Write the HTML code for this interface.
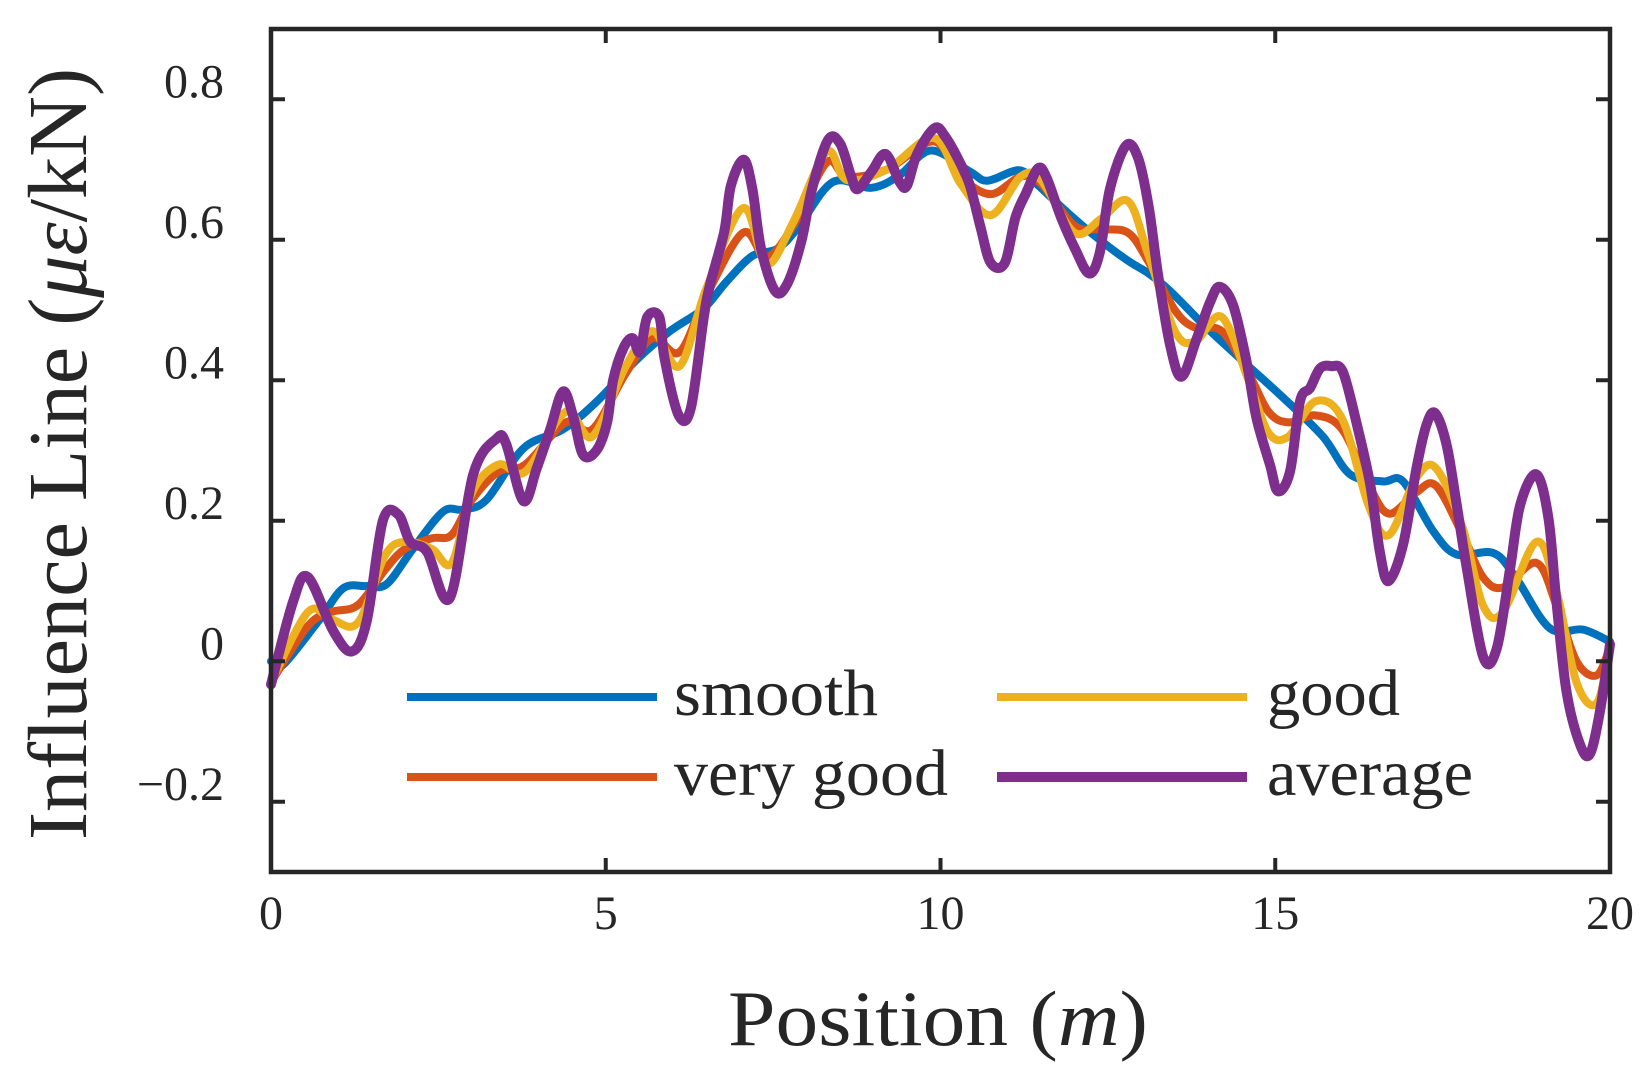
<!DOCTYPE html>
<html><head><meta charset="utf-8"><style>
html,body{margin:0;padding:0;background:#fff;}
svg{display:block;}
text{font-family:"Liberation Serif",serif;fill:#262626;}
</style></head><body>
<svg id="chart" width="1647" height="1087" viewBox="0 0 1647 1087" xmlns="http://www.w3.org/2000/svg">
<g id="series"></g>
<g id="axes"></g>
<g id="legend"></g>
<text x="938" y="1045" font-size="78" text-anchor="middle" textLength="420" lengthAdjust="spacingAndGlyphs">Position (<tspan font-style="italic">m</tspan>)</text>
<text transform="translate(86,454) rotate(-90)" x="0" y="0" font-size="84" text-anchor="middle" textLength="772" lengthAdjust="spacingAndGlyphs">Influence Line (<tspan font-style="italic">με</tspan>/kN)</text>
</svg>
<script>
const xTicks=[0,5,10,15,20];
const yTicks=[-0.2,0,0.2,0.4,0.6,0.8];
const yTickLabels=["−0.2","0","0.2","0.4","0.6","0.8"];
const seriesNames=["smooth","very good","good","average"];
const smoothX=[0,0.18,0.73,1.08,1.43,1.73,2.12,2.57,2.87,3.22,3.77,4.36,4.87,5.47,5.96,6.46,6.8,7.19,7.56,7.87,8.39,8.97,9.39,9.86,10.44,10.7,11.17,11.43,11.8,12.22,12.77,13.11,13.43,13.93,14.52,15.12,15.71,16.12,16.61,16.91,17.36,17.71,18.26,18.6,19.1,19.6,20];
const smoothY=[0,-0.005,0.06,0.104,0.107,0.11,0.16,0.213,0.216,0.23,0.303,0.33,0.37,0.43,0.47,0.502,0.54,0.577,0.587,0.617,0.682,0.674,0.692,0.727,0.697,0.684,0.699,0.68,0.647,0.612,0.572,0.552,0.527,0.479,0.427,0.375,0.32,0.266,0.256,0.256,0.185,0.152,0.154,0.118,0.047,0.045,0.028];
const midX=[0,0.55,0.9,1.3,1.7,2.0,2.4,2.7,3.0,3.4,3.8,4.4,4.8,5.3,5.7,6.1,6.5,7.05,7.4,7.8,8.3,8.6,9.2,9.9,10.3,10.75,11.2,11.5,12.0,12.4,12.8,13.1,13.5,13.8,14.2,14.6,14.9,15.2,15.6,16.0,16.4,16.7,17.1,17.4,17.8,18.1,18.4,18.9,19.2,19.5,19.8,20];
const veryGoodY=[-0.03,0.05,0.07,0.08,0.13,0.16,0.175,0.18,0.23,0.27,0.28,0.34,0.33,0.41,0.46,0.44,0.52,0.61,0.575,0.62,0.71,0.69,0.70,0.74,0.69,0.665,0.69,0.68,0.62,0.615,0.61,0.57,0.5,0.475,0.47,0.41,0.355,0.34,0.35,0.33,0.25,0.21,0.24,0.25,0.18,0.12,0.105,0.14,0.08,0.0,-0.02,0.02];
const goodY=[-0.03,0.07,0.06,0.055,0.15,0.17,0.16,0.14,0.24,0.28,0.27,0.355,0.32,0.42,0.47,0.42,0.53,0.645,0.565,0.625,0.725,0.685,0.70,0.745,0.68,0.635,0.69,0.685,0.61,0.63,0.655,0.58,0.47,0.455,0.49,0.40,0.325,0.32,0.37,0.345,0.22,0.18,0.26,0.275,0.19,0.08,0.07,0.17,0.1,-0.03,-0.06,0.02];
const avgX=[0,0.33,0.55,0.93,1.21,1.43,1.67,1.9,2.08,2.33,2.67,3.02,3.37,3.51,3.77,3.97,4.17,4.36,4.51,4.66,4.86,5.02,5.11,5.26,5.4,5.51,5.62,5.8,5.88,6.09,6.27,6.46,6.56,6.77,6.87,7.06,7.19,7.32,7.53,7.71,7.92,8.08,8.32,8.5,8.66,8.76,8.97,9.18,9.39,9.5,9.65,9.91,10.07,10.28,10.44,10.6,10.75,10.96,11.12,11.28,11.46,11.59,11.8,12.01,12.22,12.38,12.53,12.77,12.95,13.11,13.25,13.43,13.6,13.83,14.03,14.17,14.37,14.57,14.72,14.92,15.04,15.22,15.37,15.52,15.67,15.84,16.01,16.22,16.42,16.56,16.69,16.91,17.11,17.26,17.39,17.56,17.71,17.86,18.11,18.31,18.51,18.66,18.9,19.08,19.2,19.35,19.55,19.7,19.85,20];
const avgY=[-0.033,0.085,0.12,0.043,0.014,0.057,0.2,0.209,0.17,0.156,0.09,0.266,0.317,0.31,0.228,0.275,0.33,0.384,0.35,0.294,0.30,0.34,0.40,0.445,0.46,0.44,0.49,0.49,0.43,0.35,0.36,0.487,0.537,0.612,0.677,0.714,0.672,0.587,0.527,0.537,0.597,0.672,0.742,0.737,0.692,0.672,0.697,0.722,0.682,0.677,0.722,0.759,0.747,0.712,0.677,0.617,0.567,0.567,0.632,0.667,0.702,0.687,0.632,0.587,0.552,0.582,0.672,0.734,0.717,0.647,0.55,0.45,0.405,0.46,0.512,0.533,0.507,0.427,0.346,0.28,0.242,0.27,0.37,0.389,0.417,0.42,0.412,0.337,0.251,0.157,0.114,0.166,0.275,0.337,0.353,0.308,0.223,0.133,0.005,0.019,0.133,0.223,0.266,0.204,0.085,-0.043,-0.118,-0.132,-0.071,0.024];

const L=271,R=1610,T=29,B=872,xMin=0,xMax=20,yMin=-0.3,yMax=0.9;
const sx=v=>L+(v-xMin)/(xMax-xMin)*(R-L);
const sy=v=>B-(v-yMin)/(yMax-yMin)*(B-T);
const NS="http://www.w3.org/2000/svg";
const mk=(t,a)=>{const e=document.createElementNS(NS,t);for(const k in a)e.setAttribute(k,a[k]);return e;};
const colors=["#0072BD","#D95319","#EDB120","#7E2F8E"];
const widths=[8,8,8,10];
const sdata=[[smoothX,smoothY],[midX,veryGoodY],[midX,goodY],[avgX,avgY]];
function smoothPath(xs,ys){
  const P=xs.map((x,j)=>[sx(x),sy(ys[j])]);
  let d='M'+P[0][0].toFixed(1)+' '+P[0][1].toFixed(1);
  for(let j=0;j<P.length-1;j++){
    const p0=P[Math.max(j-1,0)],p1=P[j],p2=P[j+1],p3=P[Math.min(j+2,P.length-1)];
    const c1=[p1[0]+(p2[0]-p0[0])/6,p1[1]+(p2[1]-p0[1])/6];
    const c2=[p2[0]-(p3[0]-p1[0])/6,p2[1]-(p3[1]-p1[1])/6];
    d+=' C'+c1[0].toFixed(1)+' '+c1[1].toFixed(1)+' '+c2[0].toFixed(1)+' '+c2[1].toFixed(1)+' '+p2[0].toFixed(1)+' '+p2[1].toFixed(1);
  }
  return d;
}
const sg=document.getElementById('series');
sdata.forEach((s,i)=>{
  const p=mk('path',{d:smoothPath(s[0],s[1]),fill:'none',stroke:colors[i],'stroke-width':widths[i],'stroke-linejoin':'round','stroke-linecap':'round'});
  
  
  sg.appendChild(p);
});
const ax=document.getElementById('axes');
const frame=mk('rect',{x:L,y:T,width:R-L,height:B-T,fill:'none',stroke:'#262626','stroke-width':4.5});


ax.appendChild(frame);
xTicks.forEach(v=>{
  const x=sx(v);
  const t1=mk('line',{x1:x,x2:x,y1:B,y2:B-14,stroke:'#262626','stroke-width':4});
  
  
  ax.appendChild(t1);
  const t2=mk('line',{x1:x,x2:x,y1:T,y2:T+14,stroke:'#262626','stroke-width':4});
  
  
  ax.appendChild(t2);
  const tx=mk('text',{x:x,y:929,'font-size':48,'text-anchor':'middle'});
  tx.textContent=String(v);
  
  
  ax.appendChild(tx);
});
yTicks.forEach((v,i)=>{
  const y=sy(v);
  const t1=mk('line',{x1:L,x2:L+14,y1:y,y2:y,stroke:'#262626','stroke-width':4});
  
  
  ax.appendChild(t1);
  const t2=mk('line',{x1:R,x2:R-14,y1:y,y2:y,stroke:'#262626','stroke-width':4});
  
  
  ax.appendChild(t2);
  const tx=mk('text',{x:224,y:y-2,'font-size':48,'text-anchor':'end'});
  tx.textContent=yTickLabels[i];
  
  
  ax.appendChild(tx);
});
const lg=document.getElementById('legend');
const lpos=[[407,697,674,204],[407,777,674,274],[997,697,1267,133],[997,777,1267,206]];
lpos.forEach((p,i)=>{
  const ln=mk('line',{x1:p[0],x2:p[0]+250,y1:p[1],y2:p[1],stroke:colors[i],'stroke-width':widths[i]});
  
  
  lg.appendChild(ln);
  const tx=mk('text',{x:p[2],y:p[1]+18,'font-size':66,textLength:p[3],lengthAdjust:'spacingAndGlyphs'});
  tx.textContent=seriesNames[i];
  
  
  lg.appendChild(tx);
});
</script>
</body></html>
